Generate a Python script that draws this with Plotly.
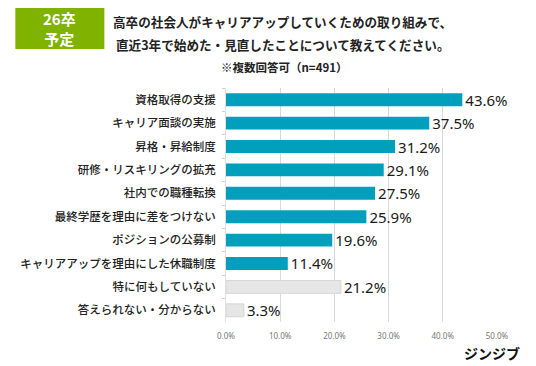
import plotly.graph_objects as go

categories = ["資格取得の支援", "キャリア面談の実施", "昇格・昇給制度", "研修・リスキリングの拡充",
              "社内での職種転換", "最終学歴を理由に差をつけない", "ポジションの公募制",
              "キャリアアップを理由にした休職制度", "特に何もしていない", "答えられない・分からない"]
values = [43.6, 37.5, 31.2, 29.1, 27.5, 25.9, 19.6, 11.4, 21.2, 3.3]
bar_colors = ["#00a0bc"] * 8 + ["#e6e6e6"] * 2
x_ticks = [0, 10, 20, 30, 40, 50]
x_tick_labels = ["0.0%", "10.0%", "20.0%", "30.0%", "40.0%", "50.0%"]
title_lines = ["高卒の社会人がキャリアアップしていくための取り組みで、",
               "直近3年で始めた・見直したことについて教えてください。"]

FONT = "Noto Sans CJK JP"

# Page has an 8px body margin; plot area in window px: x 223..497, y 88..322
PL, PR, PT, PB = 223, 497, 88, 322
def px(wx):
    return (wx - PL) / (PR - PL)
def py(wy):
    return (PB - wy) / (PB - PT)

fig = go.Figure(go.Bar(
    y=categories, x=values, orientation="h",
    marker=dict(color=bar_colors, line=dict(color="#d6d6d6", width=[0] * 8 + [1, 1])),
    width=0.55,
    text=[f"{v:.1f}%" for v in values], textposition="outside",
    textfont=dict(size=15, color="#1a1a1a", family="Noto Sans"),
    constraintext="none",
    cliponaxis=False,
))

fig.update_layout(
    width=528, height=358,
    margin=dict(l=PL - 8, r=536 - PR, t=PT - 8, b=366 - PB),
    paper_bgcolor="white", plot_bgcolor="white",
    showlegend=False,
    font=dict(family=FONT),
    xaxis=dict(range=[0, 50], tickvals=x_ticks, ticktext=x_tick_labels,
               showgrid=True, gridcolor="#d9d9d9", gridwidth=1, zeroline=False,
               tickfont=dict(size=8, color="#777777", family="Noto Sans"), ticks="",
               showline=False, ticklabelstandoff=8),
    yaxis=dict(autorange="reversed",
               tickfont=dict(size=11.5, color="#222222", family=FONT, weight=500),
               ticks="outside", tickson="boundaries", ticklen=3, tickcolor="#d0d0d0",
               showline=True, linecolor="#e0e0e0", linewidth=1, ticklabelstandoff=7),
)

fig.add_shape(type="rect", xref="paper", yref="paper",
              x0=px(10), x1=px(100), y0=py(6), y1=py(49),
              fillcolor="#80b200", line=dict(width=0))
fig.add_annotation(xref="paper", yref="paper", x=px(55), y=py(28),
                   text="<b>26卒<br>予定</b>", showarrow=False,
                   font=dict(size=15, color="white", family=FONT), align="center",
                   xanchor="center", yanchor="middle")
for line, wy in zip(title_lines, [22, 44]):
    fig.add_annotation(xref="paper", yref="paper", x=px(280), y=py(wy),
                       text=f"<b>{line}</b>", showarrow=False,
                       font=dict(size=12.6, color="#222222", family=FONT),
                       xanchor="center", yanchor="middle")
fig.add_annotation(xref="paper", yref="paper", x=px(282), y=py(67),
                   text="<b>※複数回答可（n=491）</b>", showarrow=False,
                   font=dict(size=11.5, color="#222222", family=FONT),
                   xanchor="center", yanchor="middle")
fig.add_annotation(xref="paper", yref="paper", x=px(522), y=py(353),
                   text="<b>ジンジブ</b>", showarrow=False, xanchor="right", yanchor="middle",
                   font=dict(size=14, color="#111111", family=FONT))

fig.write_html("out.html")
